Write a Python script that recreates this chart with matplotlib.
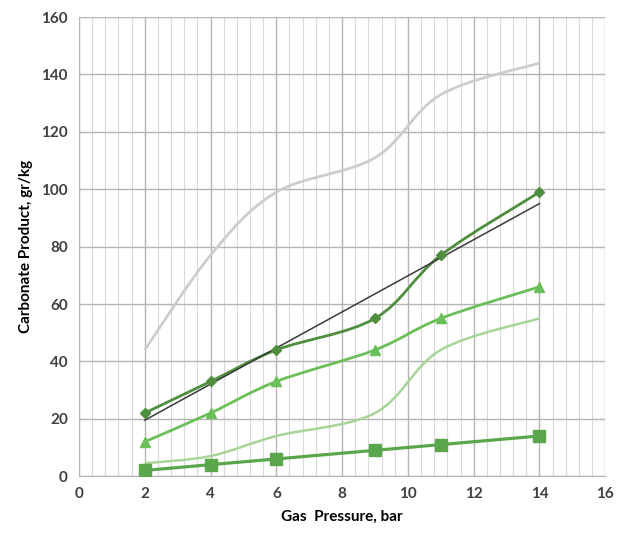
import numpy as np
import matplotlib
matplotlib.use("Agg")
import matplotlib.pyplot as plt
from matplotlib.path import Path
from matplotlib.patches import PathPatch

plt.rcParams['font.family'] = ['Lato', 'DejaVu Sans']

pressure = [2, 4, 6, 9, 11, 14]
top_curve = [44, 77, 99, 111, 133, 144]
diamond = [22, 33, 44, 55, 77, 99]
triangle = [12, 22, 33, 44, 55, 66]
light_curve = [4.5, 7, 14, 22, 44, 55]
square = [2, 4, 6, 9, 11, 14]
trend_x = [2, 14]
trend_y = [19.5, 95]


def smooth_path(xs, ys):
    # excel-style smoothed line: cubic bezier segments through the points
    p = np.column_stack([xs, ys]).astype(float)
    ext = np.vstack([p[0], p, p[-1]])
    verts = [p[0]]
    codes = [Path.MOVETO]
    for i in range(len(p) - 1):
        p0, p1, p2, p3 = ext[i], ext[i + 1], ext[i + 2], ext[i + 3]
        verts += [p1 + (p2 - p0) / 6, p2 - (p3 - p1) / 6, p2]
        codes += [Path.CURVE4] * 3
    return Path(verts, codes)


def smooth(ax, xs, ys, color, lw, marker=None, ms=6):
    ax.add_patch(PathPatch(smooth_path(xs, ys), facecolor='none',
                           edgecolor=color, lw=lw, zorder=3))
    if marker:
        ax.plot(xs, ys, ls='none', marker=marker, ms=ms, color=color, zorder=4)


fig = plt.figure(figsize=(6.17, 5.35), dpi=100)
ax = fig.add_axes([0.128, 0.110, 0.853, 0.858])

smooth(ax, pressure, top_curve, '#cdcdcd', 2.0)
smooth(ax, pressure, light_curve, '#a6d597', 1.8)
smooth(ax, pressure, square, '#5aa64a', 2.3, 's', 8)
smooth(ax, pressure, triangle, '#6abf58', 2.0, '^', 7)
smooth(ax, pressure, diamond, '#4e8e3e', 2.0, 'D', 5)
ax.plot(trend_x, trend_y, color='#3a3a3a', lw=1.1, zorder=3)

ax.set_xlim(0, 16)
ax.set_ylim(0, 160)
ax.set_xticks(np.arange(0, 17, 2))
ax.set_xticks(np.arange(0, 16.01, 0.4), minor=True)
ax.set_yticks(np.arange(0, 161, 20))
ax.grid(which='major', color='#b4b4b4', lw=1.0)
ax.grid(which='minor', axis='x', color='#dadada', lw=0.8)
ax.set_axisbelow(True)
ax.tick_params(which='both', length=0, colors='#404040', labelsize=11, pad=8)
for lab in ax.get_xticklabels() + ax.get_yticklabels():
    lab.set_fontweight('bold')
for s in ax.spines.values():
    s.set_color('#b4b4b4')
ax.spines['top'].set_visible(False)
ax.spines['right'].set_visible(False)

ax.set_xlabel('Gas  Pressure, bar', fontsize=11, fontweight='bold', labelpad=6)
ax.set_ylabel('Carbonate Product, gr/kg', fontsize=11, fontweight='bold', labelpad=6)

fig.savefig('out.png', dpi=100)
